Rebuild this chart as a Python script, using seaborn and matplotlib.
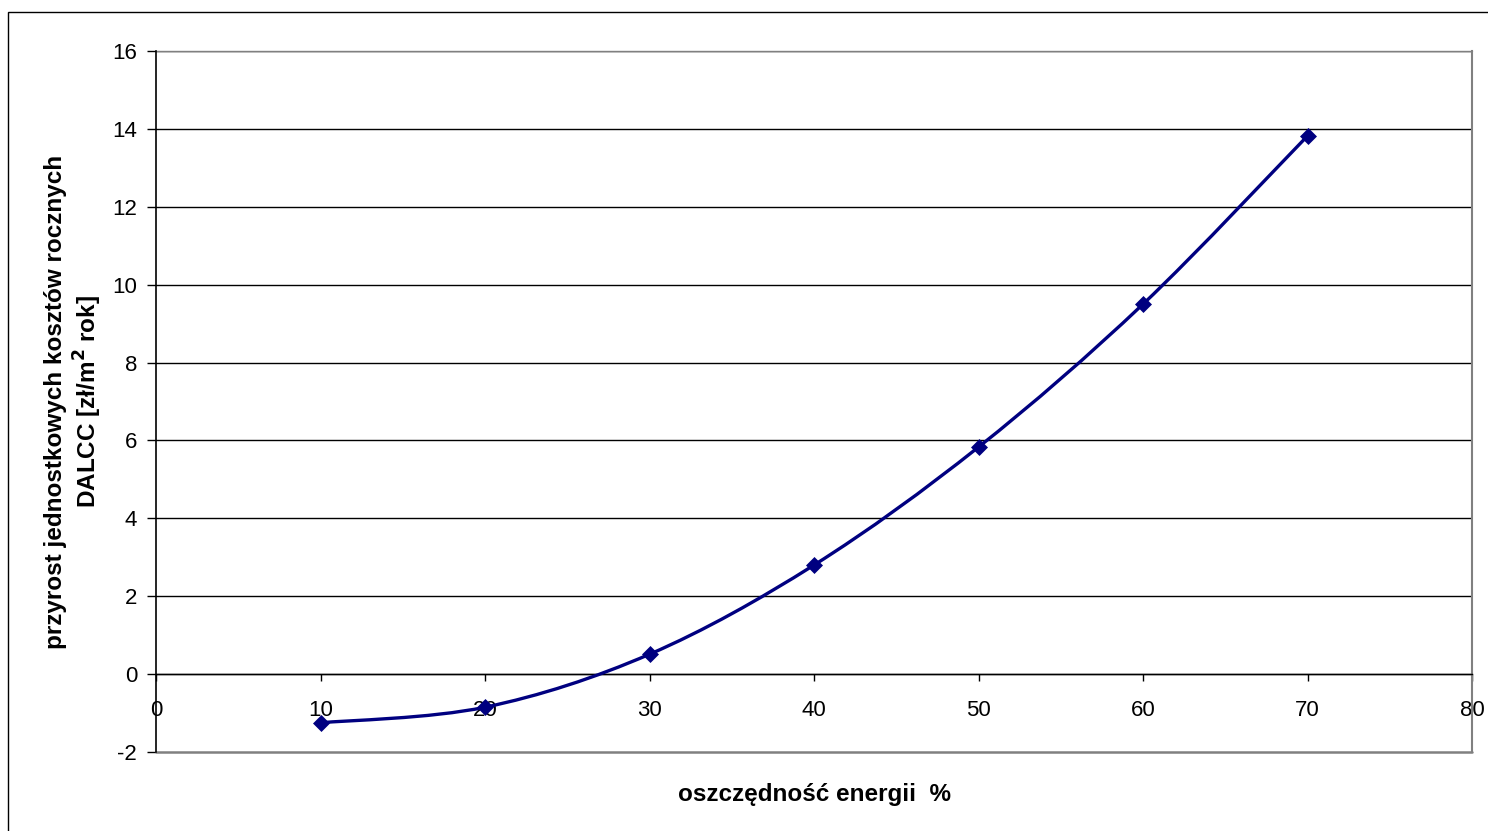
import matplotlib
matplotlib.use("Agg")
import matplotlib.pyplot as plt
import seaborn as sns
import numpy as np
import pandas as pd
from matplotlib.path import Path
from matplotlib.patches import PathPatch, Rectangle

# data
energy_saving = [10, 20, 30, 40, 50, 60, 70]
dalcc = [-1.25, -0.85, 0.51, 2.8, 5.83, 9.5, 13.82]
x_ticks = [0, 10, 20, 30, 40, 50, 60, 70, 80]
y_ticks = [-2, 0, 2, 4, 6, 8, 10, 12, 14, 16]

sns.set_theme(style="white")
plt.rcParams['font.family'] = ['Liberation Sans', 'DejaVu Sans']
plt.rcParams['text.color'] = 'black'

df = pd.DataFrame({"x": energy_saving, "y": dalcc})

fig = plt.figure(figsize=(14.88, 8.31), dpi=100)
ax = fig.add_axes([156/1488, 1-752/831, (1472-156)/1488, (752-51)/831])

# outer chart frame
fig.patches.append(Rectangle((8/1488, -0.05), 1.1, 1-12/831+0.05, transform=fig.transFigure,
                             fill=False, edgecolor='black', linewidth=1.0, zorder=0))

# smoothed curve (Catmull-Rom style Bezier through the data points)
pts = np.column_stack([df["x"].values, df["y"].values]).astype(float)
verts = [tuple(pts[0])]
codes = [Path.MOVETO]
n = len(pts)
for i in range(n - 1):
    p0 = pts[i - 1] if i > 0 else pts[i]
    p1 = pts[i]
    p2 = pts[i + 1]
    p3 = pts[i + 2] if i + 2 < n else pts[i + 1]
    c1 = p1 + (p2 - p0) / 6.0
    c2 = p2 - (p3 - p1) / 6.0
    verts += [tuple(c1), tuple(c2), tuple(p2)]
    codes += [Path.CURVE4] * 3
ax.add_patch(PathPatch(Path(verts, codes), fill=False, edgecolor='#000080', linewidth=2.4, zorder=3))

sns.scatterplot(data=df, x="x", y="y", ax=ax, marker='D', s=75, color='#000080',
                edgecolor='#000080', linewidth=0, zorder=4, legend=False)

ax.set_xlim(0, 80)
ax.set_ylim(-2, 16)
ax.set_xticks(x_ticks)
ax.set_yticks(y_ticks)
ax.set_xticklabels([str(v) for v in x_ticks])
ax.set_yticklabels([str(v) for v in y_ticks])

# grid lines
for v in y_ticks[1:]:
    ax.axhline(v, color='black', linewidth=1.0, zorder=1)

ax.spines['bottom'].set_position(('data', 0))
ax.spines['bottom'].set_color('black')
ax.spines['bottom'].set_linewidth(1.0)
ax.spines['left'].set_color('black')
ax.spines['left'].set_linewidth(1.2)
ax.spines['top'].set_visible(False)
ax.spines['right'].set_color('#808080')
ax.spines['right'].set_linewidth(1.5)
# plot-area bottom and top border
ax.axhline(-2, color='#808080', linewidth=1.8, zorder=2, clip_on=False)
ax.axhline(16, color='#808080', linewidth=1.0, zorder=2, clip_on=False)

ax.tick_params(axis='x', direction='out', length=5, width=1, colors='black', pad=13.5,
               labelsize=16, bottom=True)
ax.tick_params(axis='y', direction='out', length=6.5, width=1, colors='black', pad=7,
               labelsize=16, left=True)

ax.set_xlabel("")
ax.set_ylabel("")
fig.text(815/1488, 1-795/831, "oszczędność energii  %", ha='center', va='center',
         fontsize=17.5, fontweight='bold', color='black')
fig.text(74/1488, 1-402/831, "przyrost jednostkowych kosztów rocznych\nDALCC [zł/m$^\\mathbf{2}$ rok]",
         ha='center', va='center', rotation=90, fontsize=17.5, fontweight='bold',
         linespacing=1.2, color='black')

fig.savefig("out.png", dpi=100)
